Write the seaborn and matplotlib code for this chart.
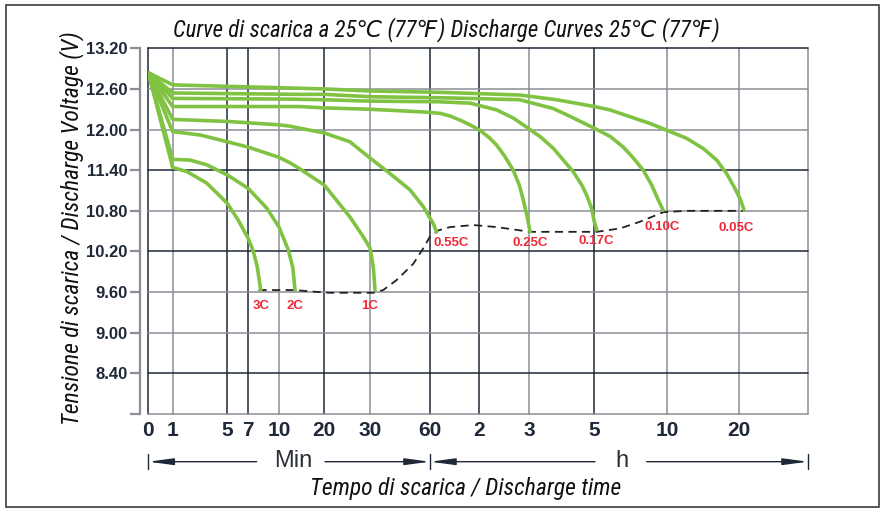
import numpy as np
import pandas as pd
import matplotlib
matplotlib.use("Agg")
import matplotlib.pyplot as plt
import seaborn as sns
from matplotlib.patches import Rectangle

# ---------------- data (time in minutes, voltage in V) ----------------
RATES = ["3C", "2C", "1C", "0.55C", "0.25C", "0.17C", "0.10C", "0.05C"]

T_3C = [0, 1, 2.03, 3.49, 5, 6.05, 7, 7.49, 7.88, 8.21]
V_3C = [12.84, 11.44, 11.38, 11.21, 10.91, 10.66, 10.39, 10.20, 9.97, 9.63]

T_2C = [0, 1, 2.27, 3.49, 5, 7, 8.8, 10, 12.06, 13.03, 13.54]
V_2C = [12.84, 11.56, 11.55, 11.48, 11.33, 11.13, 10.84, 10.56, 10.22, 9.97, 9.63]

T_1C = [0, 1, 3.0, 5, 7, 10, 12.4, 14.6, 20, 25.6, 28.5, 30, 31.65, 32.5]
V_1C = [12.84, 11.97, 11.92, 11.82, 11.74, 11.59, 11.51, 11.42, 11.18, 10.71, 10.42, 10.25, 9.97, 9.63]

T_055C = [0, 1, 5, 7, 10, 12.4, 14.6, 20, 25.6, 30, 40, 50, 56.7, 64, 68]
V_055C = [12.84, 12.15, 12.12, 12.10, 12.07, 12.05, 12.02, 11.95, 11.82, 11.58, 11.35, 11.11, 10.86, 10.61, 10.49]

T_025C = [0, 1, 14.6, 20, 30, 56.7, 72, 84.3, 96.5, 108.7, 120.8, 132.9, 141, 151, 161, 168.3, 173.1, 177.9, 182]
V_025C = [12.84, 12.34, 12.34, 12.32, 12.30, 12.26, 12.24, 12.20, 12.14, 12.07, 11.99, 11.87, 11.77, 11.60, 11.40, 11.18, 10.96, 10.71, 10.49]

T_017C = [0, 1, 12.4, 20, 30, 72, 108.7, 141, 161, 179, 203, 225, 243, 261, 277, 286, 295, 300, 310]
V_017C = [12.84, 12.46, 12.45, 12.44, 12.42, 12.41, 12.39, 12.29, 12.17, 12.02, 11.88, 11.72, 11.55, 11.38, 11.18, 11.03, 10.84, 10.64, 10.52]

T_010C = [0, 1, 14.6, 20, 30, 72, 108.7, 169, 224.7, 249, 300, 365, 420, 461, 502, 537, 564, 584]
V_010C = [12.84, 12.54, 12.52, 12.52, 12.485, 12.47, 12.46, 12.44, 12.31, 12.22, 12.02, 11.90, 11.74, 11.58, 11.40, 11.18, 10.96, 10.81]

T_005C = [0, 1, 14.6, 20, 30, 72, 121, 169, 231, 300, 365, 406, 447, 530, 599, 763, 901, 1012, 1095, 1164, 1224, 1282]
V_005C = [12.84, 12.66, 12.61, 12.60, 12.57, 12.55, 12.53, 12.51, 12.44, 12.34, 12.29, 12.24, 12.19, 12.09, 11.99, 11.87, 11.72, 11.55, 11.35, 11.13, 10.96, 10.81]

TIMES = [T_3C, T_2C, T_1C, T_055C, T_025C, T_017C, T_010C, T_005C]
VOLTS = [V_3C, V_2C, V_1C, V_055C, V_025C, V_017C, V_010C, V_005C]

# end-of-discharge voltage (dashed line)
T_END = [8.0, 13.5, 17, 21.2, 31.65, 36.6, 43.4, 51.7, 56.7, 60, 70, 84.3, 112.7, 141, 182, 310, 406, 489, 585, 760, 1300]
V_END = [9.63, 9.63, 9.61, 9.59, 9.59, 9.63, 9.78, 10.02, 10.25, 10.42, 10.51, 10.56, 10.59, 10.56, 10.49, 10.49, 10.54, 10.64, 10.78, 10.80, 10.80]

XTICKS = [0, 1, 5, 7, 10, 20, 30, 60, 120, 180, 300, 600, 1200]
XTICK_LABELS = ["0", "1", "5", "7", "10", "20", "30", "60", "2", "3", "5", "10", "20"]
YTICKS = [7.8, 8.4, 9.0, 9.6, 10.2, 10.8, 11.4, 12.0, 12.6, 13.2]
YTICK_LABELS = ["", "8.40", "9.00", "9.60", "10.20", "10.80", "11.40", "12.00", "12.60", "13.20"]

TITLE = "Curve di scarica a 25\u2103 (77\u2109) Discharge Curves 25\u2103 (77\u2109)"
YLABEL = "Tensione di scarica / Discharge Voltage (V)"
XLABEL = "Tempo di scarica / Discharge time"

# ---------------- custom (non-uniform) time scale ----------------
SCALE_T = [0, 1, 5, 7, 10, 20, 30, 60, 120, 180, 300, 600, 1200, 2400]
SCALE_P = [0, 24.4, 79.0, 100.0, 130.7, 176.0, 221.7, 281.7, 331.0, 380.7, 446.0, 518.7, 591.0, 659.7]
X_MAX = 2400


def fwd(t):
    return np.interp(t, SCALE_T, SCALE_P)


def inv(p):
    return np.interp(p, SCALE_P, SCALE_T)


# ---------------- styling ----------------
GREEN = "#80c242"
DARK = "#1e2838"
GRAY = "#8a8f96"
RED = "#ee2a3a"

sns.set_style("white")
plt.rcParams["font.family"] = ["Liberation Sans", "DejaVu Sans"]
COND = ["Roboto Condensed", "DejaVu Sans"]

W, H = 886, 509
fig = plt.figure(figsize=(W / 100, H / 100), dpi=100)
ax = fig.add_axes([148.3 / W, 1 - 414 / H, 659.7 / W, 365.7 / H])
ax.set_xscale("function", functions=(fwd, inv))

frames = [pd.DataFrame({"t": t, "v": v, "rate": r}) for r, t, v in zip(RATES, TIMES, VOLTS)]
df = pd.concat(frames, ignore_index=True)
end_df = pd.DataFrame({"t": T_END, "v": V_END})

sns.lineplot(data=end_df, x="t", y="v", color="#222222", lw=1.3, sort=False,
             estimator=None, linestyle=(0, (4.5, 3)), ax=ax, zorder=3)
sns.lineplot(data=df, x="t", y="v", units="rate", estimator=None, sort=False,
             color=GREEN, lw=2.6, ax=ax, zorder=4, legend=False)
for ln in ax.lines:
    ln.set_solid_joinstyle("round")

ax.set_xlim(0, X_MAX)
ax.set_ylim(7.8, 13.2)
ax.set_xlabel("")
ax.set_ylabel("")

# grid
vcols = [DARK, GRAY, DARK, DARK, GRAY, DARK, GRAY, DARK, DARK, GRAY, DARK, GRAY, GRAY]
for x, c in zip(XTICKS, vcols):
    ax.axvline(x, color=c, lw=1.1, zorder=1, clip_on=False)
ax.axvline(X_MAX, color=GRAY, lw=1.1, zorder=1, clip_on=False)
hcols = [GRAY, DARK, GRAY, GRAY, DARK, GRAY, DARK, GRAY, GRAY, DARK]
for y, c in zip(YTICKS, hcols):
    ax.axhline(y, color=c, lw=1.1, zorder=1, clip_on=False)

# spines / ticks
for s in ["top", "right", "bottom"]:
    ax.spines[s].set_visible(False)
ax.spines["left"].set_position(("outward", 6))
ax.spines["left"].set_color(GRAY)
ax.spines["left"].set_linewidth(1.6)
ax.set_xticks(XTICKS)
ax.set_xticklabels(XTICK_LABELS)
ax.set_yticks(YTICKS)
ax.set_yticklabels(YTICK_LABELS)
ax.minorticks_off()
ax.tick_params(axis="x", length=0, pad=5, labelsize=15, labelcolor=DARK)
ax.tick_params(axis="y", length=7, width=1.6, color=GRAY, pad=2, left=True,
               labelsize=12, labelcolor=DARK)

# rate labels at curve ends
OFFS = [(0, -16), (0, -16), (-5, -16), (15, -11), (0, -11), (0, -11), (-1, -17), (-8, -18)]
for r, t, v, o in zip(RATES, TIMES, VOLTS, OFFS):
    ax.annotate(r, xy=(t[-1], v[-1]), xytext=o, textcoords="offset pixels",
                ha="center", va="center", fontsize=9.5, fontweight="bold", color=RED, zorder=5)

# Min / h arrows
def frac(x):
    return (fwd(x) - fwd(0)) / (fwd(X_MAX) - fwd(0))

ya = -0.1304
ap = dict(arrowstyle="-|>,head_length=1.5,head_width=0.2", mutation_scale=10,
          color=DARK, lw=1, shrinkA=0, shrinkB=0)
for head, tail in [(frac(0), 0.1643), (frac(60), 0.2679), (frac(60), 0.6771), (frac(X_MAX), 0.7555)]:
    ax.annotate("", xy=(head, ya), xycoords=ax.transAxes, xytext=(tail, ya),
                textcoords=ax.transAxes, arrowprops=ap, annotation_clip=False)
for x in [0, 60, X_MAX]:
    ax.plot([x, x], [ya + 0.02, ya - 0.02], transform=ax.get_xaxis_transform(),
            clip_on=False, color=DARK, lw=1)
ax.text(0.2193, -0.1285, "Min", transform=ax.transAxes, ha="center", va="center",
        fontsize=17, color="#2b2f36")
ax.text(0.7176, -0.1285, "h", transform=ax.transAxes, ha="center", va="center",
        fontsize=17, color="#2b2f36")

# titles
fig.text(446 / W, 1 - 30 / H, TITLE, ha="center", va="center", fontsize=16.5,
         style="italic", family=COND, color="#111111")
fig.text(72 / W, 1 - 228 / H, YLABEL, ha="center", va="center", rotation=90,
         fontsize=17, style="italic", family=COND, color="#111111")
fig.text(466 / W, 1 - 488 / H, XLABEL, ha="center", va="center", fontsize=17,
         style="italic", family=COND, color="#111111")

# outer frame
fig.add_artist(Rectangle((5.5 / W, 2 / H), (879 - 5.5) / W, (504 - 2) / H,
                         transform=fig.transFigure, fill=False, ec="#3c3c3c", lw=1.2))

fig.canvas.draw()
for lbl in ax.get_xticklabels() + ax.get_yticklabels():
    lbl.set_fontweight("bold")
    lbl.set_family(["Liberation Sans", "DejaVu Sans"])

fig.savefig("out.png", dpi=100)
